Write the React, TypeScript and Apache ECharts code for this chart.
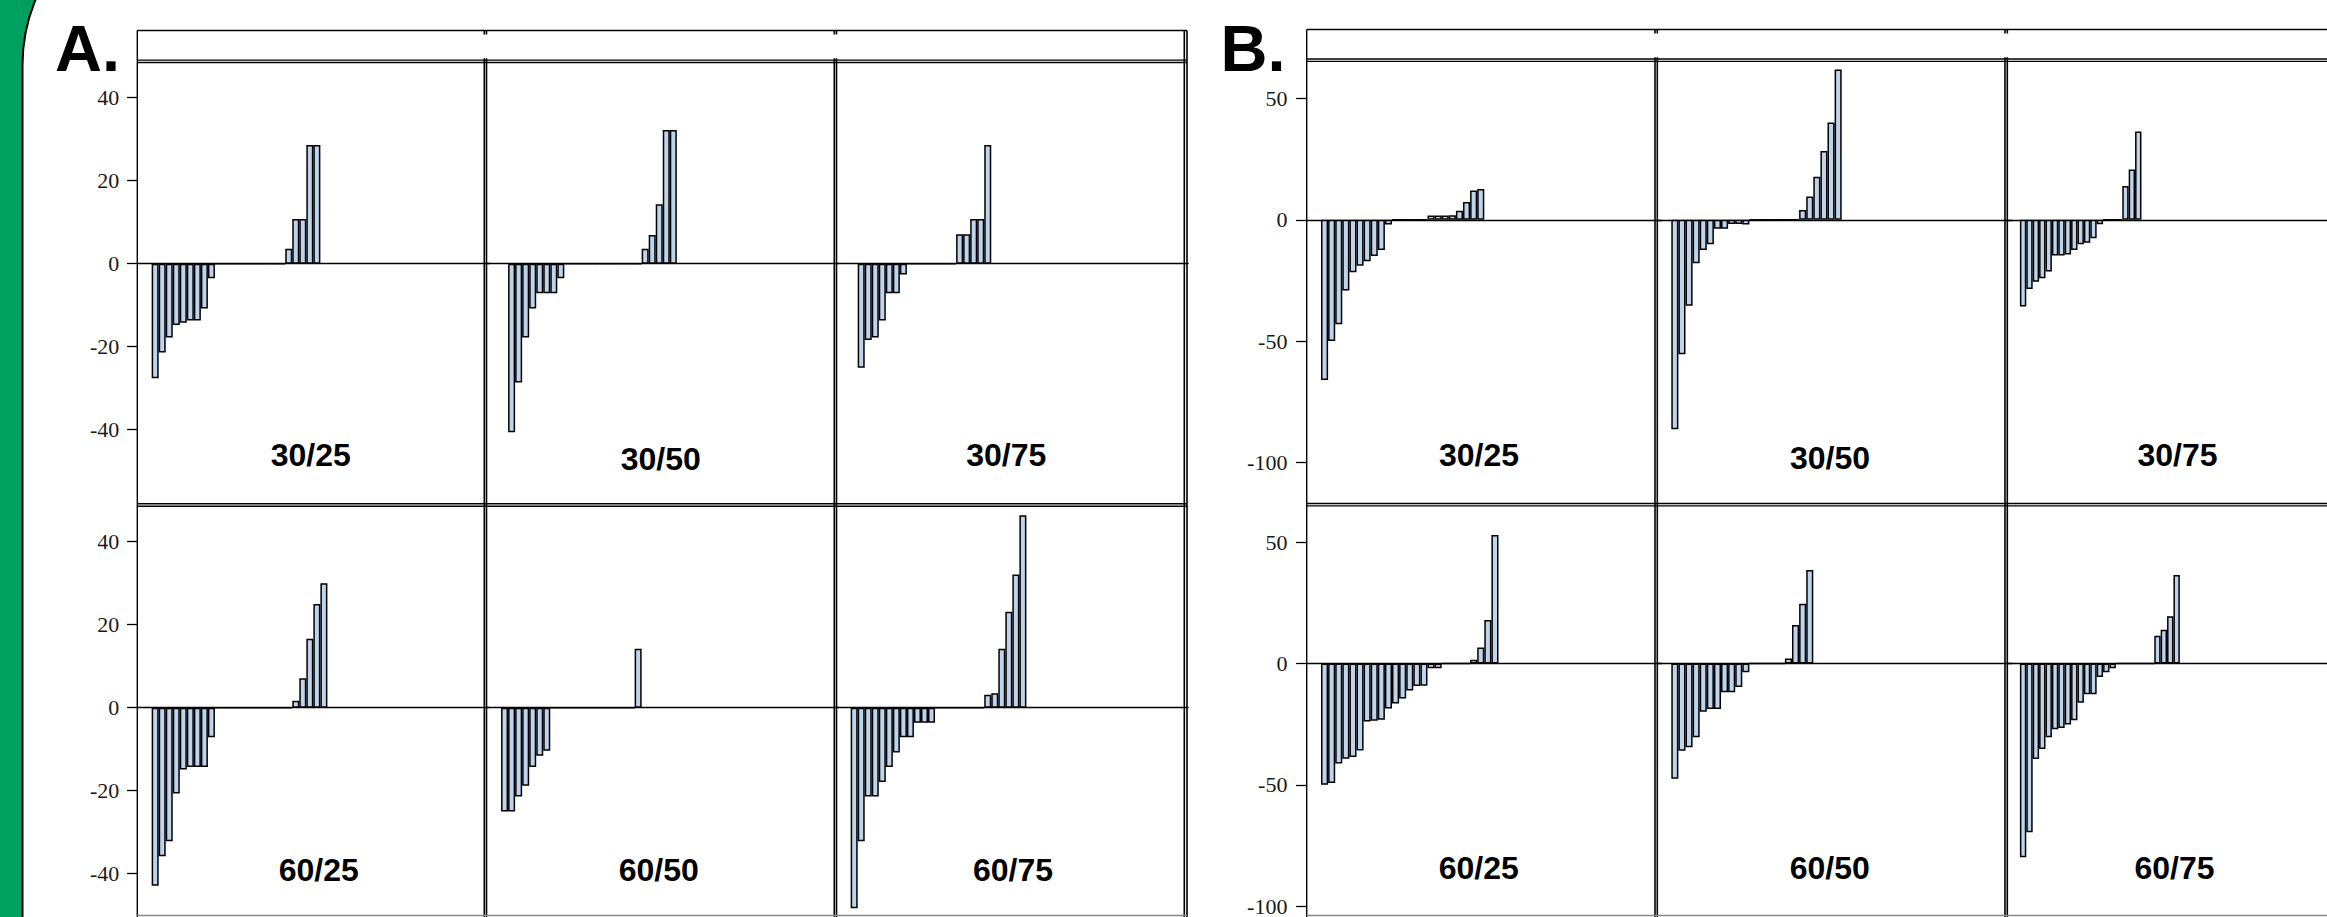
import React, { useEffect, useRef } from "react";
import * as echarts from "echarts";

// ---------- data ----------
const SLOT_COUNT = 50;
const SLOTS = Array.from({ length: SLOT_COUNT }, (_, i) => String(i + 1));

const PANEL_LABELS = ["30/25", "30/50", "30/75", "60/25", "60/50", "60/75"];
const FIGURE_LABELS = ["A.", "B."];
const A_TICKS = [-40, -20, 0, 20, 40];
const B_TICKS = [-100, -50, 0, 50];

const A_30_25 = [-27.6, -21.4, -17.8, -14.8, -14.2, -13.7, -13.7, -10.8, -3.5, 0, 0, 0, 0, 0, 0, 0, 0, 0, 0, 3.6, 10.8, 10.8, 28.6, 28.6];
const A_30_50 = [-40.6, -28.6, -17.8, -10.8, -7.1, -7.1, -7.1, -3.5, 0, 0, 0, 0, 0, 0, 0, 0, 0, 0, 0, 3.6, 6.9, 14.3, 32.2, 32.2];
const A_30_75 = [-25.1, -18.4, -17.8, -13.7, -7.1, -7.1, -2.6, 0, 0, 0, 0, 0, 0, 0, 7.1, 7.1, 10.8, 10.8, 28.6];
const A_60_25 = [-42.9, -35.8, -32.2, -20.7, -14.9, -14.3, -14.3, -14.3, -7.1, 0, 0, 0, 0, 0, 0, 0, 0, 0, 0, 0, 1.7, 7.1, 16.6, 25.0, 30.0];
const A_60_50 = [-25.0, -25.0, -21.4, -18.8, -14.3, -11.6, -10.4, 0, 0, 0, 0, 0, 0, 0, 0, 0, 0, 0, 0, 14.2];
const A_60_75 = [-48.3, -32.2, -21.4, -21.4, -17.9, -14.3, -10.8, -7.1, -7.1, -3.6, -3.6, -3.6, 0, 0, 0, 0, 0, 0, 0, 3.1, 3.5, 14.2, 23.1, 32.1, 46.4];

const B_30_25 = [-66.1, -50.0, -43.1, -29.1, -21.6, -18.9, -17.1, -14.9, -12.4, -1.9, 0, 0, 0, 0, 0, 1.8, 1.8, 1.8, 1.9, 3.7, 7.3, 12.1, 12.7];
const B_30_50 = [-86.4, -55.4, -35.4, -17.9, -12.5, -10.1, -3.7, -3.7, -1.7, -1.7, -1.9, 0, 0, 0, 0, 0, 0, 0, 4.0, 9.6, 17.8, 28.4, 40.1, 62.0];
const B_30_75 = [-35.8, -28.5, -25.5, -24.1, -21.3, -14.7, -14.7, -14.3, -12.5, -10.1, -9.5, -7.6, -1.8, 0, 0, 0, 13.9, 20.8, 36.4];
const B_60_25 = [-50.0, -49.3, -41.2, -39.3, -38.5, -35.9, -23.9, -23.6, -23.2, -18.5, -16.5, -14.4, -11.1, -9.2, -9.1, -1.9, -1.9, 0, 0, 0, 0, 1.6, 6.6, 18.0, 53.0];
const B_60_50 = [-47.5, -35.9, -34.5, -30.4, -19.8, -18.7, -18.7, -11.8, -11.8, -9.6, -3.6, 0, 0, 0, 0, 0, 2.1, 15.9, 24.7, 38.6];
const B_60_75 = [-79.9, -69.5, -39.3, -35.2, -30.4, -27.1, -26.6, -25.1, -23.4, -16.1, -12.6, -12.6, -5.5, -3.6, -1.9, 0, 0, 0, 0, 0, 0, 11.5, 14.0, 19.5, 36.5];

const A_SERIES = [A_30_25, A_30_50, A_30_75, A_60_25, A_60_50, A_60_75];
const B_SERIES = [B_30_25, B_30_50, B_30_75, B_60_25, B_60_50, B_60_75];

// ---------- layout ----------
const W = 2327;
const H = 917;
const BAR_FILL = "#BED3EC";

const FIGS = [
  {
    series: A_SERIES,
    ticks: A_TICKS,
    gridLefts: [137.6, 487.0, 836.6],
    slot: 7.03,
    rowTops: [61, 505],
    rowHeight: 412,
    yMin: -50.43,
    yMax: 48.84,
    tickLen: 10.6,
    labelMargin: 18.3,
    leads: [2, 3, 3, 2, 2, 2],
    titleX: [310.8, 660.8, 1006.3, 318.8, 658.8, 1013],
    titleY: [455, 459, 454.7, 869.5, 869.5, 869.5],
    figX: 55,
    frame: {
      left: 137.3,
      right: 1187,
      inner: [484.3, 486.5, 834.3, 836.5],
      outerRight: [1184.3, 1187],
      top: 30.5,
      strips: [61.3, 505],
      bottom: 915.5,
    },
  },
  {
    series: B_SERIES,
    ticks: B_TICKS,
    gridLefts: [1306.8, 1657.1, 2007.1],
    slot: 7.1,
    rowTops: [60.5, 504.3],
    rowHeight: 411.5,
    yMin: -104.0,
    yMax: 65.7,
    tickLen: 10.7,
    labelMargin: 19.4,
    leads: [2, 2, 2, 2, 2, 2],
    titleX: [1479, 1830, 2177.5, 1478.8, 1829.7, 2174.5],
    titleY: [454.5, 458, 454.7, 868, 868, 868],
    figX: 1220.5,
    frame: {
      left: 1306.7,
      right: W,
      inner: [1655, 1657.3, 2005, 2007.3],
      outerRight: [],
      top: 29.5,
      strips: [60.2, 504.7],
      bottom: 915.5,
    },
  },
];

function buildOption() {
  const grid: any[] = [];
  const xAxis: any[] = [];
  const yAxis: any[] = [];
  const series: any[] = [];
  const graphic: any[] = [];

  // background: green band with rounded white page
  graphic.push({
    type: "rect",
    z: -100,
    silent: true,
    shape: { x: 0, y: 0, width: W, height: H },
    style: { fill: "#00A060" },
  });
  graphic.push({
    type: "rect",
    z: -99,
    silent: true,
    shape: { x: 22.5, y: -105, width: W + 200, height: H + 300, r: [170, 0, 0, 0] },
    style: { fill: "#ffffff", stroke: "#000000", lineWidth: 2 },
  });

  const line = (x1: number, y1: number, x2: number, y2: number, stroke = "#000", lw = 1.4) => ({
    type: "line",
    z: 50,
    silent: true,
    shape: { x1, y1, x2, y2 },
    style: { stroke, lineWidth: lw },
  });

  FIGS.forEach((fig, fi) => {
    const f = fig.frame;
    // frame lines
    graphic.push(line(f.left, f.top, f.right, f.top, "#000", 1.3));
    f.strips.forEach((sy) => {
      graphic.push(line(f.left, sy - 1.2, f.right, sy - 1.2));
      graphic.push(line(f.left, sy + 1.2, f.right, sy + 1.2));
    });
    graphic.push(line(f.left, f.top, f.left, H));
    f.outerRight.forEach((x) => graphic.push(line(x, f.top, x, H, "#000", 1.6)));
    f.inner.forEach((x) => {
      graphic.push(line(x, f.top, x, f.top + 4, "#000", 1.6));
      graphic.push(line(x, f.strips[0] - 3, x, H, "#000", 1.6));
    });
    graphic.push(line(f.left, f.bottom, f.right, f.bottom, "#888", 1.5));

    // figure label
    graphic.push({
      type: "text",
      z: 60,
      x: fig.figX,
      y: 48.5,
      style: {
        text: FIGURE_LABELS[fi],
        fontSize: 65,
        fontWeight: "bold",
        fontFamily: "Liberation Sans",
        fill: "#000",
        align: "left",
        verticalAlign: "middle",
      },
    });

    for (let p = 0; p < 6; p++) {
      const row = Math.floor(p / 3);
      const col = p % 3;
      const idx = grid.length;
      grid.push({
        left: fig.gridLefts[col],
        top: fig.rowTops[row],
        width: SLOT_COUNT * fig.slot,
        height: fig.rowHeight,
        containLabel: false,
      });
      xAxis.push({
        type: "category",
        gridIndex: idx,
        data: SLOTS,
        boundaryGap: true,
        axisLine: { show: true, onZero: true, lineStyle: { color: "#000", width: 1.4 } },
        axisTick: { show: false },
        axisLabel: { show: false },
        splitLine: { show: false },
      });
      const showY = col === 0;
      yAxis.push({
        type: "value",
        gridIndex: idx,
        min: fig.yMin,
        max: fig.yMax,
        axisLine: { show: false },
        splitLine: { show: false },
        axisTick: {
          show: showY,
          length: fig.tickLen,
          customValues: fig.ticks,
          lineStyle: { color: "#000", width: 1.3 },
        },
        axisLabel: {
          show: showY,
          customValues: fig.ticks,
          margin: fig.labelMargin,
          fontFamily: "Liberation Serif",
          fontSize: 22,
          color: "#1a1a1a",
        },
      });
      const lead: (number | null)[] = [];
      for (let k = 0; k < fig.leads[p]; k++) lead.push(null);
      series.push({
        type: "bar",
        xAxisIndex: idx,
        yAxisIndex: idx,
        data: lead.concat(fig.series[p]),
        barCategoryGap: "0%",
        silent: true,
        itemStyle: { color: BAR_FILL, borderColor: "#000", borderWidth: 1.5 },
      });
      graphic.push({
        type: "text",
        z: 60,
        x: fig.titleX[p],
        y: fig.titleY[p],
        style: {
          text: PANEL_LABELS[p],
          fontSize: 32,
          fontWeight: "bold",
          fontFamily: "Liberation Sans",
          fill: "#000",
          align: "center",
          verticalAlign: "middle",
        },
      });
    }
  });

  return {
    animation: false,
    backgroundColor: "#ffffff",
    grid,
    xAxis,
    yAxis,
    series,
    graphic,
  };
}

export default function App() {
  const ref = useRef<HTMLDivElement | null>(null);
  useEffect(() => {
    if (!ref.current) return;
    const chart = echarts.init(ref.current, null, { renderer: "svg" });
    chart.setOption(buildOption() as any);
    return () => chart.dispose();
  }, []);
  return (
    <div
      ref={ref}
      style={{ position: "absolute", left: 0, top: 0, width: W, height: H }}
    />
  );
}
